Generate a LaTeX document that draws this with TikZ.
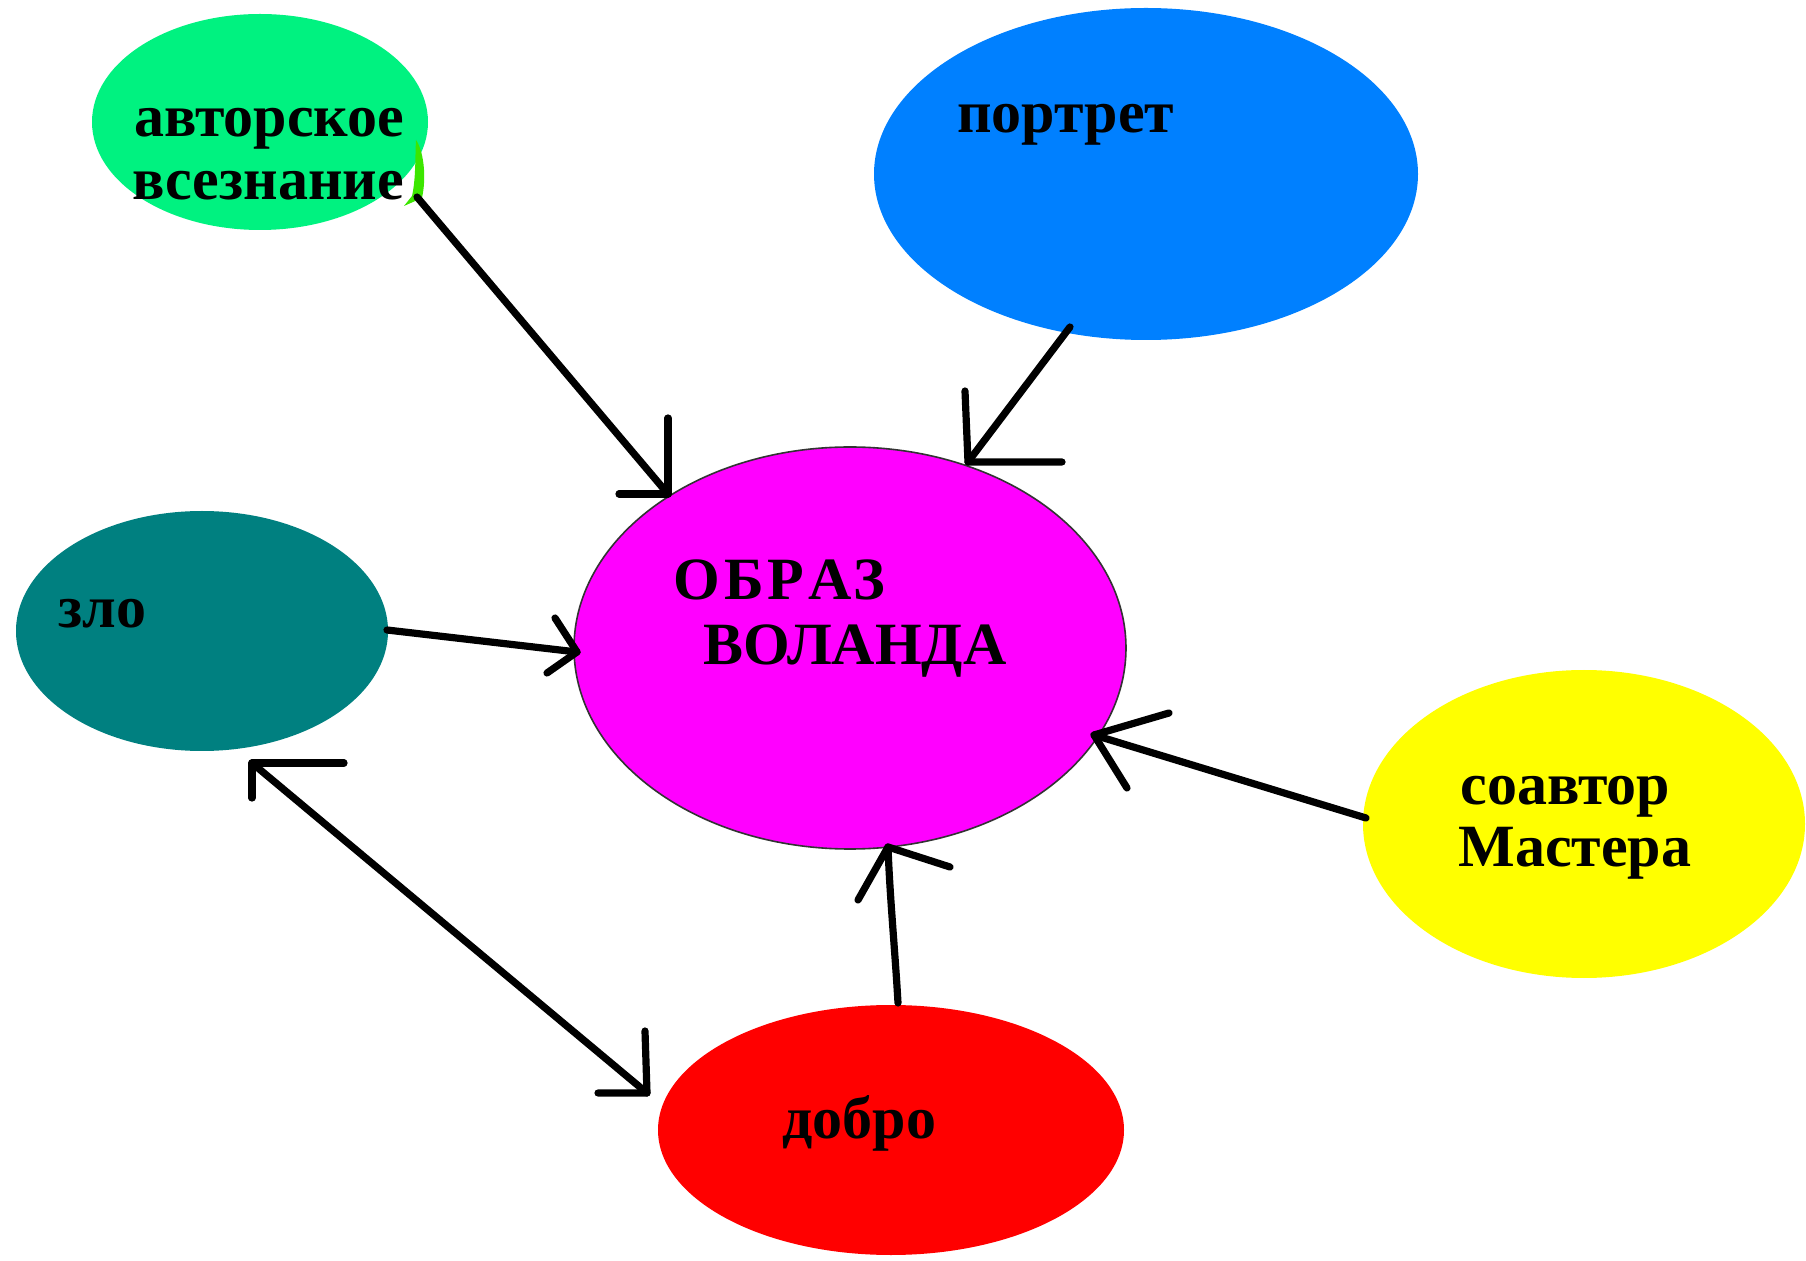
\documentclass[tikz,border=0pt]{standalone}
\usepackage{fontspec}
\setmainfont{Liberation Serif}
\usetikzlibrary{shapes.geometric}
\definecolor{cgreen}{RGB}{0,242,128}
\definecolor{cblue}{RGB}{0,128,255}
\definecolor{cmag}{RGB}{255,0,255}
\definecolor{cteal}{RGB}{0,128,128}
\definecolor{cyel}{RGB}{255,255,0}
\definecolor{cred}{RGB}{255,0,0}
\definecolor{clime}{RGB}{60,230,0}
\tikzset{
  blob/.style={ellipse, inner sep=0pt, draw=none},
  lbl/.style={anchor=base west, inner sep=0pt, font=\fontsize{30pt}{34pt}\selectfont\bfseries, text=black},
  conn/.style={line width=3.6pt, line cap=round, line join=round, black},
}
\begin{document}
\begin{tikzpicture}[x=0.5pt,y=-0.5pt]
\useasboundingbox[fill=white] (0,0) rectangle (1806,1261);
% ellipses
\node[blob, fill=cgreen, minimum width=168pt, minimum height=108pt] (av) at (260,122) {};
\node[blob, fill=cblue, minimum width=272pt, minimum height=166pt] (port) at (1146,174) {};
\node[blob, fill=cmag, draw=black!80, line width=0.8pt, minimum width=276pt, minimum height=201pt] (vol) at (850,648) {};
\node[blob, fill=cteal, minimum width=186pt, minimum height=120pt] (zlo) at (202,631) {};
\node[blob, fill=cyel, minimum width=221pt, minimum height=154pt] (soav) at (1584,824) {};
\node[blob, fill=cred, minimum width=233pt, minimum height=125pt] (dobro) at (891,1130) {};
% lime sliver on green ellipse
\fill[clime] (416,140) .. controls (423,150) and (427,175) .. (422,198) -- (404,206) -- (412,196) .. controls (416,178) and (415,158) .. cycle;
% labels
\node[lbl] (t1) at (134,137) {авторское};
\node[lbl] (t2) at (132,200) {всезнание};
\node[lbl] (t3) at (957,133) {портрет};
\node[lbl] (t4) at (673,600) {О\kern2ptБ\kern2ptР\kern2ptА\kern1ptЗ};
\node[lbl] (t5) at (703,665) {ВОЛАНДА};
\node[lbl] (t6) at (58,628) {зло};
\node[lbl] (t7) at (1460,805) {соавтор};
\node[lbl] (t8) at (1458,867) {Мастера};
\node[lbl] (t9) at (782,1138) {добро};
% connector coordinates
\coordinate (s1) at (417,197); \coordinate (e1) at (668,494);
\coordinate (e1a) at (668,418); \coordinate (e1b) at (619,494);
\coordinate (s2) at (1070,327); \coordinate (e2) at (968,462);
\coordinate (e2a) at (965,391); \coordinate (e2b) at (1062,462);
\coordinate (s3) at (387,630); \coordinate (e3) at (577,652);
\coordinate (e3a) at (555,618); \coordinate (e3b) at (547,673);
\coordinate (s4) at (1366,818); \coordinate (e4) at (1094,735);
\coordinate (e4a) at (1169,713); \coordinate (e4b) at (1127,788);
\coordinate (s5) at (898,1003); \coordinate (e5) at (888,847);
\coordinate (e5a) at (950,867); \coordinate (e5b) at (858,900);
\coordinate (s6) at (252,763); \coordinate (e6) at (647,1093);
\coordinate (s6a) at (344,763); \coordinate (s6b) at (252,798);
\coordinate (e6a) at (645,1031); \coordinate (e6b) at (598,1093);
% connectors
\draw[conn] (s1) -- (e1); \draw[conn] (e1a) -- (e1) -- (e1b);
\draw[conn] (s2) -- (e2); \draw[conn] (e2a) -- (e2) -- (e2b);
\draw[conn] (s3) -- (e3); \draw[conn] (e3a) -- (e3) -- (e3b);
\draw[conn] (s4) -- (e4); \draw[conn] (e4a) -- (e4) -- (e4b);
\draw[conn] (s5) .. controls (895,950) and (890,900) .. (e5); \draw[conn] (e5a) -- (e5) -- (e5b);
\draw[conn] (s6) -- (e6); \draw[conn] (s6a) -- (s6) -- (s6b); \draw[conn] (e6a) -- (e6) -- (e6b);
\end{tikzpicture}
\end{document}
